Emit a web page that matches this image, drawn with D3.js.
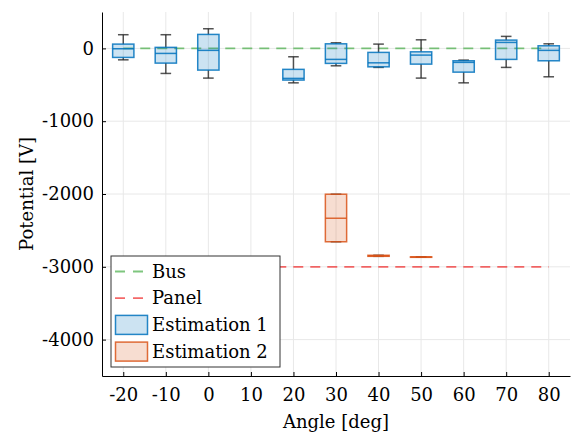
<!DOCTYPE html>
<html>
<head>
<meta charset="utf-8">
<script src="https://cdn.jsdelivr.net/npm/d3@7"></script>
<style>
  body { margin: 0; background: #fff; }
  svg { display: block; font-family: "DejaVu Serif", serif; }
  .tick line { stroke: #000; }
  .domain { stroke: #000; }
</style>
</head>
<body>
<svg width="574" height="432"></svg>
<script>
// angles of each estimation box
var angles1 = [-20, -10, 0, 20, 30, 40, 50, 60, 70, 80];
var est1Min = [-157, -344, -408, -473, -239, -261, -408, -473, -261, -390];
var est1Q1  = [-124, -202, -298, -435, -206, -253, -216, -326, -151, -170];
var est1Med = [-5, -69, -27, -412, -151, -198, -92, -192, 82, -27];
var est1Q3  = [59, 14, 192, -288, 63, -55, -47, -170, 114, 36];
var est1Max = [188, 188, 270, -115, 77, 59, 118, -161, 165, 63];

var angles2 = [30, 40, 50];
var est2Min = [-2656, -2856, -2869];
var est2Q1  = [-2656, -2856, -2869];
var est2Med = [-2333, -2849, -2866];
var est2Q3  = [-2003, -2842, -2863];
var est2Max = [-2003, -2842, -2863];

var busLevel = 0, panelLevel = -3000;
var lineRange = [-20, 80];

var xTicks = [-20, -10, 0, 10, 20, 30, 40, 50, 60, 70, 80];
var yTicks = [-4000, -3000, -2000, -1000, 0];

var margin = {left: 102, top: 12, right: 4, bottom: 56};
var svg = d3.select("svg");
var W = +svg.attr("width"), H = +svg.attr("height");

var x = d3.scaleLinear().domain([-25, 85]).range([margin.left, W - margin.right]);
var y = d3.scaleLinear().domain([-4500, 500]).range([H - margin.bottom, margin.top]);

// grid
var grid = svg.append("g").attr("class", "grid");
grid.selectAll(".gx").data(xTicks).enter().append("line")
  .attr("x1", d => x(d)).attr("x2", d => x(d))
  .attr("y1", y.range()[1]).attr("y2", y.range()[0])
  .style("stroke", "#e8e8e8").style("stroke-width", 1);
grid.selectAll(".gy").data(yTicks).enter().append("line")
  .attr("y1", d => y(d)).attr("y2", d => y(d))
  .attr("x1", x.range()[0]).attr("x2", x.range()[1])
  .style("stroke", "#e8e8e8").style("stroke-width", 1);

// reference lines
svg.append("line")
  .attr("x1", x(lineRange[0])).attr("x2", x(lineRange[1]))
  .attr("y1", y(busLevel)).attr("y2", y(busLevel))
  .style("stroke", "rgba(40,160,40,0.6)").style("stroke-width", 1.8)
  .style("stroke-dasharray", "10,7");
svg.append("line")
  .attr("x1", x(lineRange[0])).attr("x2", x(lineRange[1]))
  .attr("y1", y(panelLevel)).attr("y2", y(panelLevel))
  .style("stroke", "rgba(240,40,40,0.7)").style("stroke-width", 1.8)
  .style("stroke-dasharray", "10,7");

// boxes
var boxW = 5; // in degrees
function drawBoxes(angles, mn, q1, md, q3, mx, stroke, fill) {
  var data = angles.map((a, i) => ({a: a, mn: mn[i], q1: q1[i], md: md[i], q3: q3[i], mx: mx[i]}));
  var g = svg.append("g").selectAll("g").data(data).enter().append("g");
  var half = (x(boxW) - x(0)) / 2;
  // whiskers
  g.append("line").attr("x1", d => x(d.a)).attr("x2", d => x(d.a))
    .attr("y1", d => y(d.q3)).attr("y2", d => y(d.mx))
    .style("stroke", "rgba(40,40,40,0.8)").style("stroke-width", 1.5);
  g.append("line").attr("x1", d => x(d.a)).attr("x2", d => x(d.a))
    .attr("y1", d => y(d.q1)).attr("y2", d => y(d.mn))
    .style("stroke", "rgba(40,40,40,0.8)").style("stroke-width", 1.5);
  g.append("line").attr("x1", d => x(d.a) - half / 2).attr("x2", d => x(d.a) + half / 2)
    .attr("y1", d => y(d.mx)).attr("y2", d => y(d.mx))
    .style("stroke", "rgba(40,40,40,0.8)").style("stroke-width", 1.5);
  g.append("line").attr("x1", d => x(d.a) - half / 2).attr("x2", d => x(d.a) + half / 2)
    .attr("y1", d => y(d.mn)).attr("y2", d => y(d.mn))
    .style("stroke", "rgba(40,40,40,0.8)").style("stroke-width", 1.5);
  g.append("rect")
    .attr("x", d => x(d.a) - half).attr("width", 2 * half)
    .attr("y", d => y(d.q3)).attr("height", d => Math.max(y(d.q1) - y(d.q3), 0.5))
    .style("fill", fill).style("stroke", stroke).style("stroke-width", 1.5);
  g.append("line").attr("x1", d => x(d.a) - half).attr("x2", d => x(d.a) + half)
    .attr("y1", d => y(d.md)).attr("y2", d => y(d.md))
    .style("stroke", stroke).style("stroke-width", 1.5);
}
drawBoxes(angles1, est1Min, est1Q1, est1Med, est1Q3, est1Max, "rgba(0,114,189,0.85)", "rgba(0,114,189,0.2)");
drawBoxes(angles2, est2Min, est2Q1, est2Med, est2Q3, est2Max, "rgba(217,83,25,0.85)", "rgba(217,83,25,0.2)");

// axes
var xAxis = d3.axisBottom(x).tickValues(xTicks).tickSize(-4).tickSizeOuter(0).tickPadding(12)
  .tickFormat(d => String(d));
var yAxis = d3.axisLeft(y).tickValues(yTicks).tickSize(-4).tickSizeOuter(0).tickPadding(8)
  .tickFormat(d => String(d));
svg.append("g").attr("transform", "translate(0," + y.range()[0] + ")").call(xAxis)
  .selectAll("text").style("font-size", "18px").style("fill", "#000").style("font-family", "DejaVu Serif");
svg.append("g").attr("transform", "translate(" + x.range()[0] + ",0)").call(yAxis)
  .selectAll("text").style("font-size", "18px").style("fill", "#000").style("font-family", "DejaVu Serif");

svg.append("text").attr("x", (x.range()[0] + x.range()[1]) / 2).attr("y", 428)
  .attr("text-anchor", "middle").style("font-size", "18px").text("Angle [deg]");
svg.append("text").attr("transform", "translate(33," + (y.range()[0] + y.range()[1]) / 2 + ") rotate(-90)")
  .attr("text-anchor", "middle").style("font-size", "18px").text("Potential [V]");

// legend
var legendItems = [
  {name: "Bus", type: "line", color: "rgba(40,160,40,0.6)"},
  {name: "Panel", type: "line", color: "rgba(240,40,40,0.7)"},
  {name: "Estimation 1", type: "box", stroke: "rgba(0,114,189,0.85)", fill: "rgba(0,114,189,0.2)"},
  {name: "Estimation 2", type: "box", stroke: "rgba(217,83,25,0.85)", fill: "rgba(217,83,25,0.2)"}
];
var lg = svg.append("g").attr("transform", "translate(111,256)");
lg.append("rect").attr("width", 169).attr("height", 111)
  .style("fill", "#fff").style("stroke", "#333").style("stroke-width", 1);
var li = lg.selectAll(".li").data(legendItems).enter().append("g")
  .attr("transform", (d, i) => "translate(0," + (15.5 + i * 26.7) + ")");
li.filter(d => d.type == "line").append("line")
  .attr("x1", 4).attr("x2", 34).attr("y1", 0).attr("y2", 0)
  .style("stroke", d => d.color).style("stroke-width", 1.8).style("stroke-dasharray", "10,8");
li.filter(d => d.type == "box").append("rect")
  .attr("x", 4.5).attr("y", -9.5).attr("width", 32).attr("height", 19)
  .style("fill", d => d.fill).style("stroke", d => d.stroke).style("stroke-width", 1.5);
li.append("text").attr("x", 41).attr("y", 6).style("font-size", "18px").text(d => d.name);
</script>
</body>
</html>
